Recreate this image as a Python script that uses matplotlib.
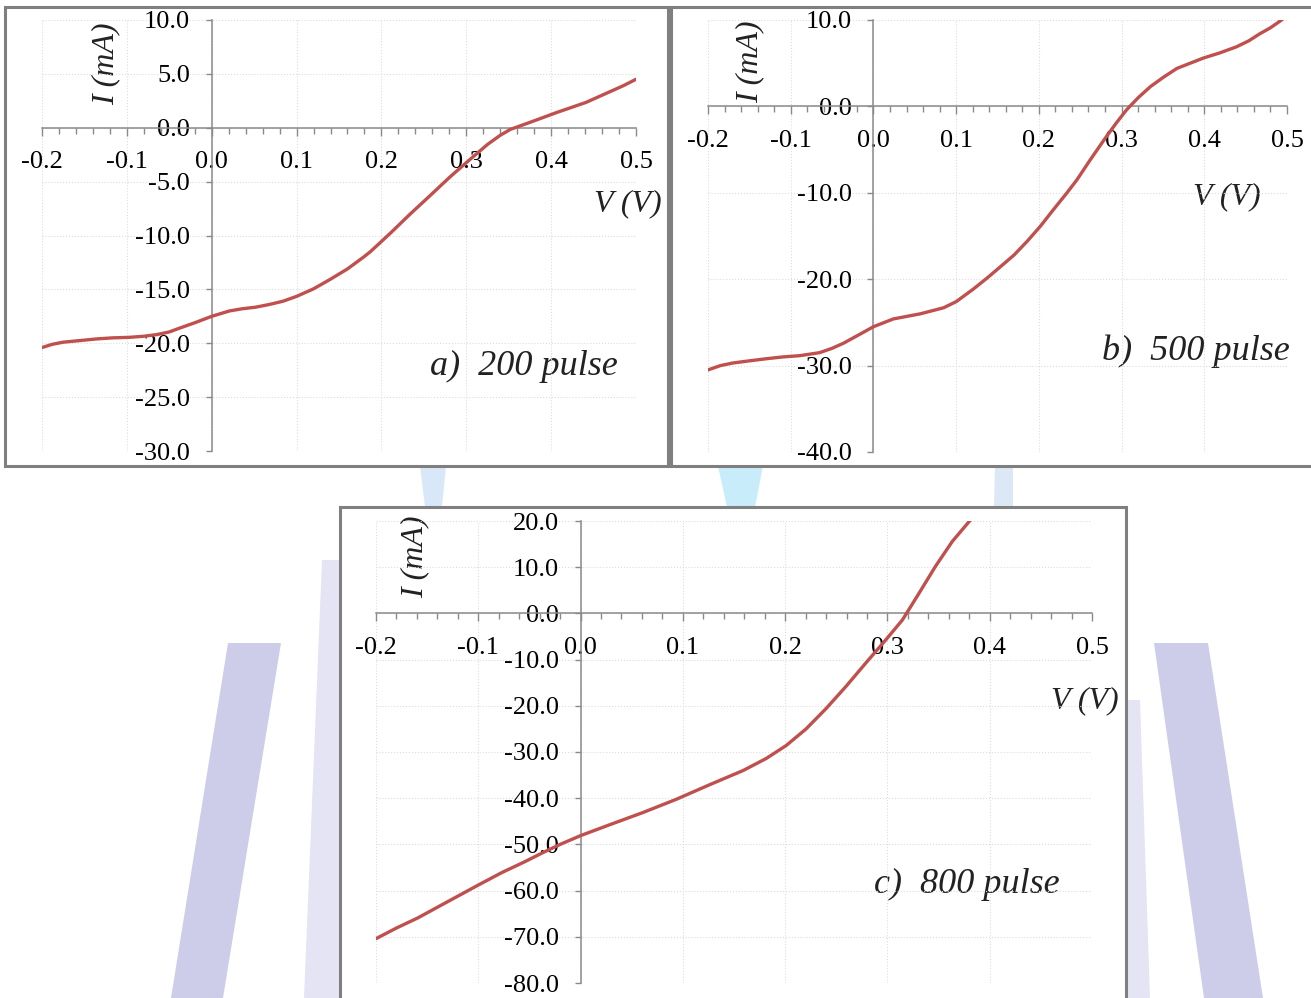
import matplotlib
matplotlib.use("Agg")
import matplotlib.pyplot as plt
from matplotlib.patches import Polygon, Rectangle
from matplotlib.ticker import MultipleLocator, FormatStrFormatter

plt.rcParams['font.family'] = ['Liberation Serif', 'DejaVu Serif']
plt.rcParams['axes.unicode_minus'] = False

# I-V curves (V in volts, I in mA)
v_200 = [-0.200, -0.188, -0.175, -0.155, -0.136, -0.117, -0.097, -0.080, -0.065, -0.050,
         -0.038, -0.020, 0.000, 0.021, 0.036, 0.052, 0.068, 0.084, 0.100, 0.120,
         0.139, 0.160, 0.179, 0.187, 0.211, 0.234, 0.258, 0.281, 0.305, 0.325,
         0.340, 0.352, 0.375, 0.406, 0.441, 0.468, 0.485, 0.500]
i_200 = [-20.4, -20.1, -19.9, -19.75, -19.6, -19.5, -19.45, -19.35, -19.2, -18.95,
         -18.6, -18.1, -17.5, -17.0, -16.8, -16.65, -16.4, -16.1, -15.65, -14.95,
         -14.1, -13.1, -12.0, -11.5, -9.75, -8.0, -6.25, -4.55, -2.9, -1.55,
         -0.7, -0.15, 0.5, 1.4, 2.35, 3.3, 3.9, 4.5]

v_500 = [-0.200, -0.185, -0.170, -0.150, -0.129, -0.110, -0.089, -0.065, -0.050, -0.036,
         -0.016, 0.000, 0.024, 0.057, 0.085, 0.100, 0.120, 0.137, 0.153, 0.170,
         0.186, 0.202, 0.218, 0.234, 0.246, 0.262, 0.279, 0.293, 0.306, 0.320,
         0.335, 0.351, 0.367, 0.383, 0.399, 0.419, 0.439, 0.454, 0.467, 0.480,
         0.492, 0.500]
i_500 = [-30.5, -30.0, -29.7, -29.45, -29.2, -29.0, -28.85, -28.5, -28.0, -27.4,
         -26.35, -25.5, -24.6, -24.0, -23.3, -22.6, -21.2, -19.9, -18.6, -17.2,
         -15.6, -13.85, -11.9, -10.0, -8.5, -6.2, -3.85, -2.0, -0.4, 1.0,
         2.3, 3.4, 4.4, 5.0, 5.6, 6.2, 6.9, 7.6, 8.4, 9.1,
         9.9, 10.5]

v_800 = [-0.200, -0.180, -0.159, -0.130, -0.100, -0.077, -0.055, -0.037, -0.020, 0.000,
         0.029, 0.061, 0.094, 0.126, 0.159, 0.1815, 0.201, 0.2205, 0.240, 0.2595,
         0.279, 0.2985, 0.3147, 0.331, 0.347, 0.3635, 0.3815]
i_800 = [-70.4, -68.1, -65.9, -62.4, -58.8, -56.1, -53.8, -51.8, -50.0, -48.1,
         -45.7, -43.1, -40.2, -37.1, -34.0, -31.4, -28.6, -25.0, -20.6, -15.8,
         -10.7, -5.7, -1.4, 4.4, 10.2, 15.6, 20.3]

panel_text = ['a)  200 pulse', 'b)  500 pulse', 'c)  800 pulse']

W, H = 1311, 998
RED = '#c0504d'
GRAY = '#8a8a8a'

fig = plt.figure(figsize=(W / 100, H / 100), dpi=100)
fig.patch.set_facecolor('white')

# background layer in pixel coordinates
bg = fig.add_axes([0, 0, 1, 1])
bg.set_xlim(0, W)
bg.set_ylim(H, 0)
bg.axis('off')

# faint watermark behind the panels
stripes = [
    ([(228, 643), (281, 643), (223, 998), (171, 998)], '#cdcdea'),
    ([(1154, 643), (1208, 643), (1263, 998), (1204, 998)], '#cdcdea'),
    ([(322, 560), (346, 560), (341, 998), (304, 998)], '#e4e4f4'),
    ([(1126, 700), (1140, 700), (1150, 998), (1126, 998)], '#e4e4f4'),
    ([(420, 466), (446, 466), (442, 507), (425, 507)], '#d8e8f8'),
    ([(718, 466), (763, 466), (755, 507), (727, 507)], '#c8ecf9'),
    ([(995, 466), (1013, 466), (1013, 507), (994, 507)], '#dde8f6'),
]
for pts, col in stripes:
    bg.add_patch(Polygon(pts, closed=True, facecolor=col, edgecolor='none', zorder=1))

# panel frames
for x0, y0, x1, y1 in [(5, 7, 668, 466), (671, 7, 1320, 466), (340, 507, 1126, 1010)]:
    bg.add_patch(Rectangle((x0, y0), x1 - x0, y1 - y0, facecolor='white',
                           edgecolor='#7f7f7f', lw=2.2, zorder=2))


def px_axes(x0, x1, ytop, ybot):
    return fig.add_axes([x0 / W, 1 - ybot / H, (x1 - x0) / W, (ybot - ytop) / H])


def style(ax, ymin, ymax, ystep):
    ax.set_facecolor('none')
    ax.set_xlim(-0.2, 0.5)
    ax.set_ylim(ymin, ymax)
    for s in ['top', 'right']:
        ax.spines[s].set_visible(False)
    ax.spines['left'].set_position(('data', 0))
    ax.spines['bottom'].set_position(('data', 0))
    for s in ['left', 'bottom']:
        ax.spines[s].set_color(GRAY)
        ax.spines[s].set_linewidth(1.1)
    ax.xaxis.set_major_locator(MultipleLocator(0.1))
    ax.xaxis.set_minor_locator(MultipleLocator(0.02))
    ax.yaxis.set_major_locator(MultipleLocator(ystep))
    ax.xaxis.set_major_formatter(FormatStrFormatter('%.1f'))
    ax.yaxis.set_major_formatter(FormatStrFormatter('%.1f'))
    ax.tick_params(axis='x', which='major', direction='out', length=6, width=1, color=GRAY,
                   pad=11, labelsize=19)
    ax.tick_params(axis='x', which='minor', direction='out', length=4.5, width=1, color=GRAY)
    ax.tick_params(axis='y', which='major', direction='out', length=4.5, width=1, color=GRAY,
                   pad=11, labelsize=19)
    # dotted grid, drawn by hand so it spans the whole plot box
    for k in range(8):
        ax.axvline(-0.2 + 0.1 * k, color='#dcdcdc', lw=0.8, ls=':', zorder=0)
    y = ymin
    while y <= ymax + 1e-9:
        ax.axhline(y, color='#dcdcdc', lw=0.8, ls=':', zorder=0)
        y += ystep


line = dict(color=RED, lw=2.4, solid_joinstyle='round', solid_capstyle='round', zorder=3)

ax_a = px_axes(42, 636, 20, 451)
style(ax_a, -30, 10, 5)
ax_a.plot(v_200, i_200, **line)

ax_b = px_axes(708, 1287, 20, 452)
style(ax_b, -40, 10, 10)
ax_b.plot(v_500, i_500, **line)

ax_c = px_axes(376, 1092, 521, 983)
style(ax_c, -80, 20, 10)
ax_c.plot(v_800, i_800, **line)

# axis titles and panel captions (pixel positions)
lab = dict(fontstyle='italic', fontsize=23, color='#222222', zorder=5)
for x, y in [(106, 64), (750, 62), (415, 557)]:
    bg.text(x, y, 'I (mA)', rotation=90, ha='center', va='center', **lab)
for x, y in [(628, 204), (1227, 197), (1085, 701)]:
    bg.text(x, y, 'V (V)', ha='center', va='center', **lab)
cap = dict(fontstyle='italic', fontsize=26, color='#222222', zorder=5)
for (x, y), t in zip([(524, 366), (1196, 351), (967, 884)], panel_text):
    bg.text(x, y, t, ha='center', va='center', **cap)

fig.savefig('out.png', dpi=100, facecolor='white')
